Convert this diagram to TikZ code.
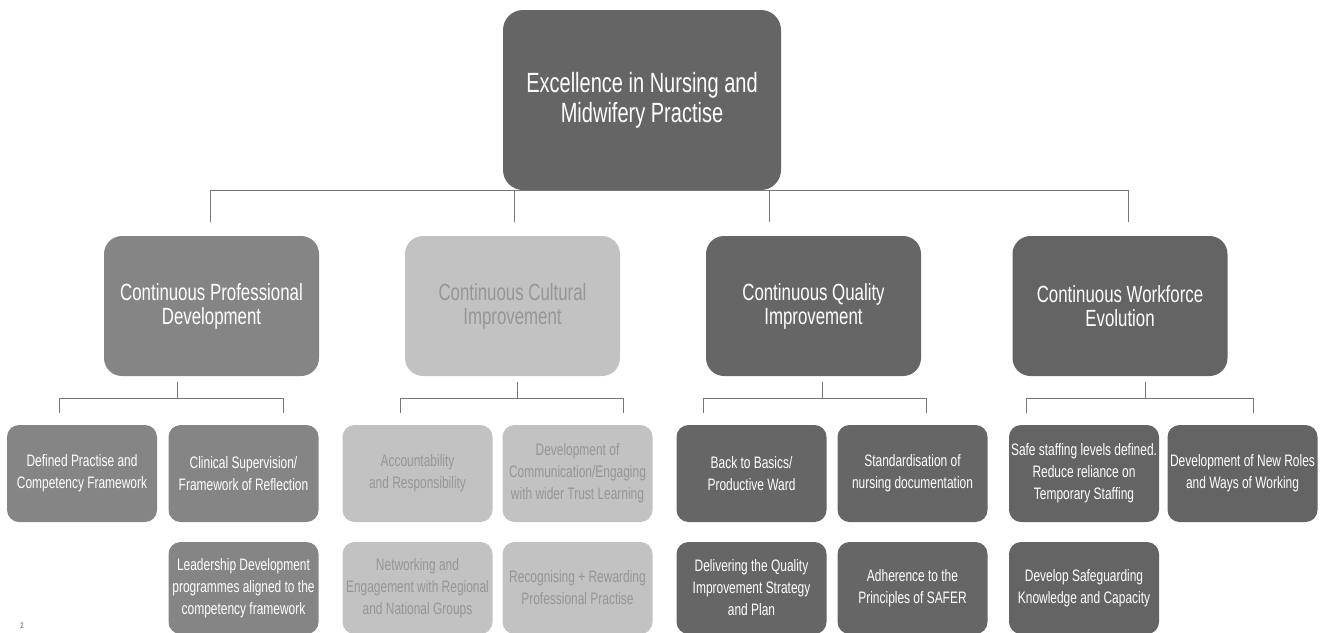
\documentclass[tikz,border=0pt]{standalone}
\usepackage{fontspec}
\setmainfont[FakeStretch=0.72]{Liberation Sans}

\definecolor{goalgray}{HTML}{656565}
\definecolor{profgray}{HTML}{858585}
\definecolor{cultgray}{HTML}{C2C2C2}
\definecolor{culttext}{HTML}{969696}
\definecolor{qualgray}{HTML}{666666}
\definecolor{workgray}{HTML}{646464}
\definecolor{linkgray}{HTML}{777777}

\begin{document}
\begin{tikzpicture}[x=0.5pt,y=-0.5pt,
    box/.style={rounded corners=6pt, align=center, text=white, inner sep=1pt},
    goal/.style={box, fill=goalgray, minimum width=139pt, minimum height=90pt,
      rounded corners=10pt, font=\fontsize{13.9}{15}\selectfont},
    pillar/.style={box, minimum width=107.5pt, minimum height=70pt,
      rounded corners=9pt, font=\fontsize{11.7}{12}\selectfont},
    leaf/.style={box, minimum width=75pt, minimum height=48.5pt,
      font=\fontsize{8.3}{11}\selectfont},
    lowleaf/.style={leaf, minimum height=46pt},
    link/.style={draw=linkgray, line width=0.5pt}]
  \useasboundingbox (0,0) rectangle (1325,632);

  % goal and the four pillars
  \draw
    (642,100) node[goal] (goal) {Excellence in Nursing and\\Midwifery Practise}
    (211.5,306) node[pillar, fill=profgray] (cpd) {Continuous Professional\\Development}
    (512.5,306) node[pillar, fill=cultgray, text=culttext] (cci) {Continuous Cultural\\Improvement}
    (813.5,306) node[pillar, fill=qualgray] (cqi) {Continuous Quality\\Improvement}
    (1120,306) node[pillar, fill=workgray] (cwe) {Continuous Workforce\\Evolution};

  % professional development
  \draw
    (82,473.5) node[leaf, fill=profgray] (cpd1) {Defined Practise and\\Competency Framework}
    (243.5,473.5) node[leaf, fill=profgray] (cpd2) {Clinical Supervision/\\Framework of Reflection}
    (243.5,588) node[lowleaf, fill=profgray] (cpd3) {Leadership Development\\programmes aligned to the\\competency framework};

  % cultural improvement
  \draw
    (417.5,473.5) node[leaf, fill=cultgray, text=culttext] (cci1) {Accountability\\and Responsibility}
    (577.5,473.5) node[leaf, fill=cultgray, text=culttext] (cci2) {Development of\\Communication/Engaging\\with wider Trust Learning}
    (417.5,588) node[lowleaf, fill=cultgray, text=culttext] (cci3) {Networking and\\Engagement with Regional\\and National Groups}
    (577.5,588) node[lowleaf, fill=cultgray, text=culttext] (cci4) {Recognising + Rewarding\\Professional Practise};

  % quality improvement
  \draw
    (751.5,473.5) node[leaf, fill=qualgray] (cqi1) {Back to Basics/\\Productive Ward}
    (912.5,473.5) node[leaf, fill=qualgray] (cqi2) {Standardisation of\\nursing documentation}
    (751.5,588) node[lowleaf, fill=qualgray] (cqi3) {Delivering the Quality\\Improvement Strategy\\and Plan}
    (912.5,588) node[lowleaf, fill=qualgray] (cqi4) {Adherence to the\\Principles of SAFER};

  % workforce evolution
  \draw
    (1084,473.5) node[leaf, fill=workgray] (cwe1) {Safe staffing levels defined.\\Reduce reliance on\\Temporary Staffing}
    (1242.5,473.5) node[leaf, fill=workgray] (cwe2) {Development of New Roles\\and Ways of Working}
    (1084,588) node[lowleaf, fill=workgray] (cwe3) {Develop Safeguarding\\Knowledge and Capacity};

  \node[font=\fontsize{4}{4}\selectfont, text=black!70] (mark) at (22,626) {2};

  % top level tree
  \coordinate (cpd-in) at (210,222);
  \coordinate (cci-in) at (514,222);
  \coordinate (cqi-in) at (769,222);
  \coordinate (cwe-in) at (1128,222);
  \draw[link] (cpd-in) |- (goal.south) -| (cwe-in);
  \draw[link] (cci-in) -- (cci-in |- goal.south);
  \draw[link] (cqi-in) -- (cqi-in |- goal.south);

  % second level trees
  \coordinate (cpd-out) at (177,382);
  \coordinate (cpd-l) at (59,413);
  \coordinate (cpd-r) at (283,413);
  \coordinate (cci-out) at (517,382);
  \coordinate (cci-l) at (400,413);
  \coordinate (cci-r) at (623,413);
  \coordinate (cqi-out) at (822,382);
  \coordinate (cqi-l) at (703,413);
  \coordinate (cqi-r) at (926,413);
  \coordinate (cwe-out) at (1145,382);
  \coordinate (cwe-l) at (1026,413);
  \coordinate (cwe-r) at (1253,413);
  \draw[link] (cpd-out) -- ++(0,16) coordinate (cpd-bus);
  \draw[link] (cpd-l) |- (cpd-bus) -| (cpd-r);
  \draw[link] (cci-out) -- ++(0,16) coordinate (cci-bus);
  \draw[link] (cci-l) |- (cci-bus) -| (cci-r);
  \draw[link] (cqi-out) -- ++(0,16) coordinate (cqi-bus);
  \draw[link] (cqi-l) |- (cqi-bus) -| (cqi-r);
  \draw[link] (cwe-out) -- ++(0,16) coordinate (cwe-bus);
  \draw[link] (cwe-l) |- (cwe-bus) -| (cwe-r);
\end{tikzpicture}
\end{document}
